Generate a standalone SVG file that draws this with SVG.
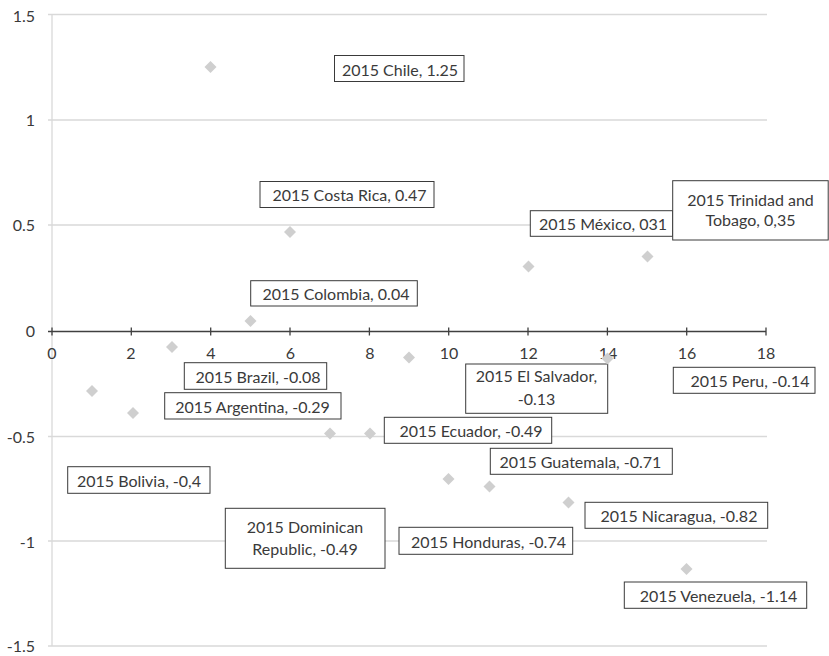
<svg xmlns="http://www.w3.org/2000/svg" width="829" height="656" viewBox="0 0 829 656">
<defs>
<style>
.grid{stroke:#d9d9d9;stroke-width:1.3;fill:none}
.axis{stroke:#404040;stroke-width:1.3;fill:none}
.t{font-family:Lato,"Open Sans","Liberation Sans",sans-serif;font-size:16px;fill:#3a3a3a;font-weight:400}
.tm{text-anchor:middle}
.te{text-anchor:end}
.box{fill:#fff;stroke:#3a3a3a;stroke-width:1}
.pt{fill:#cfcfcf}
</style>
<path id="d" d="M0,-6 L6,0 L0,6 L-6,0 Z"/>
</defs>
<rect width="829" height="656" fill="#fff"/>
<g id="gridlines">
<line class="grid" x1="48" y1="14.5" x2="767" y2="14.5"/>
<line class="grid" x1="48" y1="120" x2="767" y2="120"/>
<line class="grid" x1="48" y1="225" x2="767" y2="225"/>
<line class="grid" x1="48" y1="436.5" x2="767" y2="436.5"/>
<line class="grid" x1="48" y1="541" x2="767" y2="541"/>
<line class="grid" x1="48" y1="646" x2="767" y2="646"/>
<line class="grid" x1="52" y1="14.5" x2="52" y2="646"/>
</g>
<g id="x-axis">
<line class="axis" x1="48" y1="331.5" x2="766" y2="331.5"/>
<path class="axis" d="M52,327.5v8M131.3,327.5v8M210.7,327.5v8M290,327.5v8M369.4,327.5v8M448.7,327.5v8M528,327.5v8M607.4,327.5v8M686.7,327.5v8M766,327.5v8"/>
</g>
<g id="y-labels" class="t te">
<text x="35" y="22">1.5</text>
<text x="35" y="126">1</text>
<text x="35" y="231">0.5</text>
<text x="35" y="337">0</text>
<text x="35" y="442.5">-0.5</text>
<text x="35" y="547.5">-1</text>
<text x="35" y="651.5">-1.5</text>
</g>
<g id="x-labels" class="t tm">
<text x="52" y="359">0</text>
<text x="131" y="359">2</text>
<text x="211" y="359">4</text>
<text x="290.5" y="359">6</text>
<text x="370" y="359">8</text>
<text x="449" y="359">10</text>
<text x="528.5" y="359">12</text>
<text x="608" y="359">14</text>
<text x="687" y="359">16</text>
<text x="766" y="359">18</text>
</g>
<g id="labels" class="t tm">
<g id="chile"><rect class="box" x="334.5" y="55.5" width="129.5" height="26"/><text x="400" y="75.5">2015 Chile, 1.25</text></g>
<g id="costa-rica"><rect class="box" x="260" y="181.5" width="174" height="26"/><text x="349.5" y="201">2015 Costa Rica, 0.47</text></g>
<g id="colombia"><rect class="box" x="250.7" y="280.7" width="166.6" height="25.3"/><text x="336" y="300">2015 Colombia, 0.04</text></g>
<g id="brazil"><rect class="box" x="184.3" y="362.7" width="142.4" height="26.6"/><text x="258" y="383">2015 Brazil, -0.08</text></g>
<g id="argentina"><rect class="box" x="164.7" y="392.7" width="176.3" height="26.3"/><text x="252.5" y="412.5">2015 Argentina, -0.29</text></g>
<g id="ecuador"><rect class="box" x="384.3" y="417.3" width="167.4" height="26"/><text x="471" y="436.7">2015 Ecuador, -0.49</text></g>
<g id="bolivia"><rect class="box" x="67.7" y="466.7" width="142.3" height="26.6"/><text x="139" y="486.7">2015 Bolivia, -0,4</text></g>
<g id="guatemala"><rect class="box" x="490.3" y="448.3" width="182" height="26"/><text x="580.5" y="468.3">2015 Guatemala, -0.71</text></g>
<g id="nicaragua"><rect class="box" x="585" y="502.3" width="182.7" height="26"/><text x="679" y="522.3">2015 Nicaragua, -0.82</text></g>
<g id="honduras"><rect class="box" x="399" y="527.3" width="173.7" height="27"/><text x="488.5" y="548.3">2015 Honduras, -0.74</text></g>
<g id="venezuela"><rect class="box" x="624.3" y="582" width="182.4" height="26.3"/><text x="718.5" y="602.3">2015 Venezuela, -1.14</text></g>
<g id="mexico"><rect class="box" x="530.3" y="210.7" width="142.4" height="25.6"/><text x="603" y="230">2015 México, 031</text></g>
<g id="peru"><rect class="box" x="673.3" y="367.3" width="141.7" height="26"/><text x="750" y="387.3">2015 Peru, -0.14</text></g>
<g id="trinidad"><rect class="box" x="672.7" y="180.7" width="155.5" height="59.3"/><text x="750.5" y="205.5">2015 Trinidad and</text><text x="750.5" y="225.7">Tobago, 0,35</text></g>
<g id="el-salvador"><rect class="box" x="465.7" y="364" width="142" height="49.3"/><text x="536.5" y="382">2015 El Salvador,</text><text x="536.5" y="405">-0.13</text></g>
<g id="dominican"><rect class="box" x="225.3" y="508.3" width="159.7" height="60"/><text x="305" y="533.3">2015 Dominican</text><text x="305" y="555">Republic, -0.49</text></g>
</g>
<g id="points" class="pt">
<use href="#d" x="92" y="391"/>
<use href="#d" x="133" y="413"/>
<use href="#d" x="172" y="347"/>
<use href="#d" x="210.5" y="67"/>
<use href="#d" x="250.5" y="321"/>
<use href="#d" x="290" y="232"/>
<use href="#d" x="330" y="433.5"/>
<use href="#d" x="370" y="433.5"/>
<use href="#d" x="409" y="357.5"/>
<use href="#d" x="448.5" y="479"/>
<use href="#d" x="489.5" y="486.5"/>
<use href="#d" x="528.5" y="266.5"/>
<use href="#d" x="568.5" y="502.5"/>
<use href="#d" x="607.5" y="358.5"/>
<use href="#d" x="647.5" y="256.5"/>
<use href="#d" x="686.5" y="569"/>
</g>
</svg>
